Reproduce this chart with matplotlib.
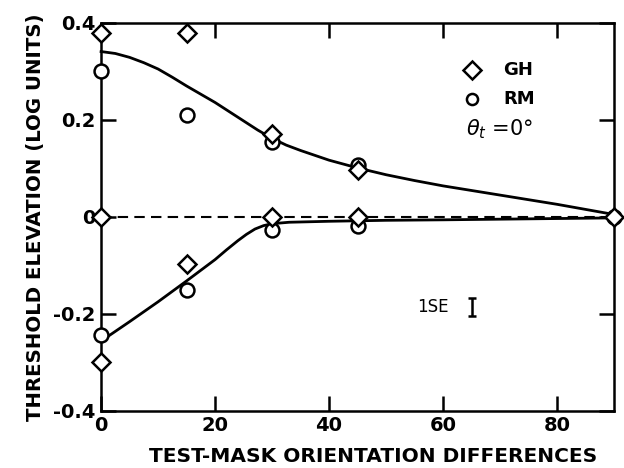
import matplotlib
matplotlib.use("Agg")
import matplotlib.pyplot as plt

# Data points (orientation difference in degrees)
gh_x = [0, 15, 30, 45, 90, 0, 0, 15, 30, 45]
gh_y = [0.38, 0.38, 0.172, 0.097, 0.0, 0.0, -0.30, -0.097, 0.0, 0.0]
rm_x = [0, 15, 30, 45, 90, 0, 15, 30, 45]
rm_y = [0.30, 0.21, 0.155, 0.108, 0.0, -0.243, -0.15, -0.028, -0.019]

# Fitted curves
upper_x = [0, 2.5, 5, 7.5, 10, 12.5, 15, 17.5, 20, 22.5, 25, 27.5, 30, 32.5, 35,
           40, 45, 50, 55, 60, 70, 80, 90]
upper_y = [0.341, 0.337, 0.329, 0.318, 0.305, 0.288, 0.270, 0.253, 0.236, 0.217,
           0.198, 0.179, 0.162, 0.148, 0.137, 0.117, 0.101, 0.087, 0.075, 0.064,
           0.045, 0.026, 0.005]
lower_x = [0, 5, 10, 15, 20, 22, 24, 25.5, 27, 28.5, 30, 33, 40, 50, 60, 90]
lower_y = [-0.256, -0.216, -0.175, -0.132, -0.088, -0.068, -0.049, -0.036, -0.025,
           -0.018, -0.014, -0.011, -0.009, -0.007, -0.006, -0.002]

xticks = [0, 20, 40, 60, 80]
yticks = [-0.4, -0.2, 0, 0.2, 0.4]
ytick_labels = ["-0.4", "-0.2", "0", "0.2", "0.4"]

se_center = -0.186
se_half = 0.019

plt.rcParams['font.family'] = ['DejaVu Sans']
plt.rcParams['font.weight'] = 'bold'
plt.rcParams['mathtext.fontset'] = 'custom'
plt.rcParams['mathtext.it'] = 'DejaVu Sans:italic:normal'
plt.rcParams['mathtext.rm'] = 'DejaVu Sans:normal'

fig = plt.figure(figsize=(6.24, 4.68), dpi=100)
ax = fig.add_axes([0.162, 0.122, 0.822, 0.829])

ax.axhline(0, color='black', lw=1.5, ls=(0, (5, 3)), zorder=1)
ax.plot(upper_x, upper_y, color='black', lw=2.0, zorder=2, clip_on=False)
ax.plot(lower_x, lower_y, color='black', lw=2.0, zorder=2, clip_on=False)

ax.plot(gh_x, gh_y, ls='none', marker='D', ms=9, mfc='white', mec='black',
        mew=1.8, zorder=4, clip_on=False)
ax.plot(rm_x, rm_y, ls='none', marker='o', ms=10, mfc='white', mec='black',
        mew=1.8, zorder=3, clip_on=False)

# legend (hand drawn like original)
ax.plot([65.0], [0.303], marker='D', ms=9, mfc='white', mec='black', mew=1.8, ls='none')
ax.plot([65.0], [0.243], marker='o', ms=8, mfc='white', mec='black', mew=1.8, ls='none')
ax.text(70.6, 0.303, "GH", fontsize=13, fontweight='bold', va='center', ha='left')
ax.text(70.6, 0.243, "RM", fontsize=13, fontweight='bold', va='center', ha='left')
ax.text(64.0, 0.18, r"$\theta_t$ =0°", fontsize=15, fontweight='normal',
        va='center', ha='left')

# 1 SE marker
ax.text(55.5, se_center, "1SE", fontsize=12, fontweight='normal', va='center', ha='left')
ax.errorbar([65.0], [se_center], yerr=[se_half], fmt='none', ecolor='black',
            elinewidth=1.8, capsize=3, capthick=1.8)

ax.set_xlim(0, 90)
ax.set_ylim(-0.4, 0.4)
ax.set_xticks(xticks)
ax.set_xticklabels([str(t) for t in xticks])
ax.set_yticks(yticks)
ax.set_yticklabels(ytick_labels)
ax.tick_params(direction='in', length=11, width=1.8, top=True, right=True,
               labelsize=14, pad=4)
for lab in ax.get_xticklabels() + ax.get_yticklabels():
    lab.set_fontweight('bold')
for sp in ax.spines.values():
    sp.set_linewidth(1.8)

ax.set_xlabel("TEST-MASK ORIENTATION DIFFERENCES", fontsize=14.5, fontweight='bold',
              labelpad=8, x=0.53)
ax.set_ylabel("THRESHOLD ELEVATION (LOG UNITS)", fontsize=14.2, fontweight='bold',
              labelpad=6)

fig.savefig("out.png", dpi=100)
